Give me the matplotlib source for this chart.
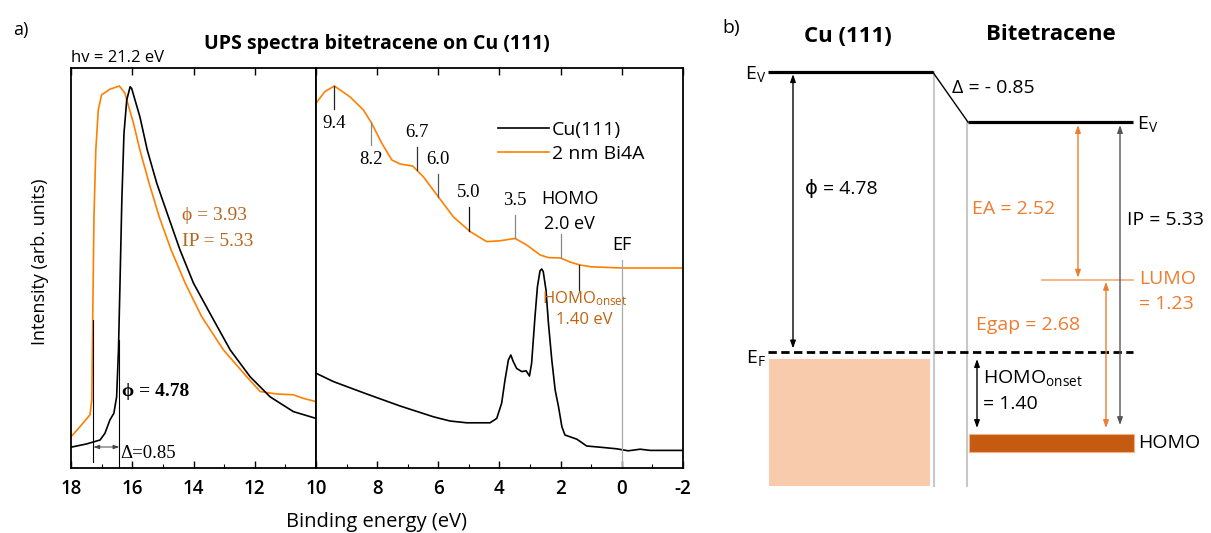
import matplotlib

matplotlib.use("Agg")
import matplotlib.pyplot as plt
import numpy as np
from matplotlib.patches import Rectangle

plt.rcParams["font.family"] = ["Open Sans", "DejaVu Sans"]
plt.rcParams["mathtext.fontset"] = "custom"
plt.rcParams["mathtext.rm"] = "Open Sans"
plt.rcParams["mathtext.it"] = "Open Sans:italic"
plt.rcParams["mathtext.bf"] = "Open Sans:bold"
plt.rcParams["axes.unicode_minus"] = False

SERIF = ["Liberation Serif", "DejaVu Serif"]

# ---- UPS spectra (binding energy in eV, intensity in arb. units) ----
hv = 21.2
phi_cu = 4.78
phi_film = 3.93
ip_film = 5.33

# secondary electron cutoff region (18 -> 10 eV)
cu_left_e = [18.0, 17.5, 17.05, 16.89, 16.73, 16.6, 16.51, 16.45, 16.40, 16.34, 16.27, 16.18, 16.07,
             16.02, 15.75, 15.51, 15.20, 14.82, 14.44, 14.0, 13.40, 12.80, 12.15, 11.50, 10.74, 10.0]
cu_left_i = [0.052, 0.060, 0.070, 0.087, 0.120, 0.137, 0.178, 0.295, 0.462, 0.670, 0.837, 0.920, 0.953,
             0.949, 0.878, 0.795, 0.712, 0.628, 0.545, 0.462, 0.378, 0.295, 0.228, 0.178, 0.141, 0.124]
film_left_e = [18.0, 17.71, 17.38, 17.32, 17.29, 17.25, 17.19, 17.11, 17.0, 16.73, 16.42, 16.24, 15.96,
               15.75, 15.45, 15.12, 14.73, 14.27, 13.73, 13.02, 12.26, 11.82, 11.28, 10.74, 10.41, 10.0]
film_left_i = [0.078, 0.103, 0.133, 0.170, 0.378, 0.628, 0.795, 0.895, 0.933, 0.947, 0.955, 0.937, 0.862,
               0.795, 0.712, 0.628, 0.545, 0.462, 0.378, 0.295, 0.228, 0.191, 0.185, 0.183, 0.174, 0.166]

# valence band region (10 -> -2 eV)
cu_right_e = [10.0, 9.43, 8.34, 7.25, 6.16, 5.62, 5.07, 4.31, 4.09, 3.93, 3.82, 3.71, 3.63, 3.55, 3.44,
              3.27, 3.13, 3.02, 2.95, 2.84, 2.76, 2.675, 2.62, 2.57, 2.48, 2.40, 2.29, 2.18, 2.07, 1.96,
              1.86, 1.47, 1.15, 0.71, 0.17, -0.21, -0.6, -0.93, -2.0]
cu_right_i = [0.237, 0.216, 0.185, 0.155, 0.128, 0.1175, 0.113, 0.113, 0.124, 0.162, 0.220, 0.270, 0.2825,
              0.266, 0.249, 0.241, 0.243, 0.230, 0.262, 0.378, 0.453, 0.493, 0.4975, 0.491, 0.445, 0.362,
              0.270, 0.195, 0.153, 0.103, 0.0825, 0.072, 0.055, 0.052, 0.048, 0.043, 0.047, 0.044, 0.044]
film_right_e = [10.0, 9.71, 9.4, 8.89, 8.45, 8.18, 7.85, 7.52, 7.25, 6.84, 6.49, 6.0, 5.51, 4.96, 4.42,
                3.98, 3.49, 3.11, 2.67, 2.4, 2.0, 1.70, 1.37, 1.0, 0.0, -2.0]
film_right_i = [0.912, 0.941, 0.955, 0.928, 0.895, 0.862, 0.812, 0.770, 0.760, 0.755, 0.728, 0.678, 0.628,
                0.591, 0.566, 0.568, 0.574, 0.5575, 0.5325, 0.526, 0.525, 0.515, 0.5075, 0.503, 0.500, 0.500]

peak_e = [9.4, 8.2, 6.7, 6.0, 5.0, 3.5]
peak_below = [True, True, False, False, False, False]
peak_color = ["#222222", "#888888", "#333333", "#555555", "#111111", "#888888"]
homo_e = 2.0
homo_onset = 1.40

# ---- energy level diagram (eV relative to E_F) ----
delta = -0.85
vac_org = phi_cu + delta
lumo = 1.23
ea = 2.52
egap = 2.68

ORANGE = "#ff8000"
BROWN = "#b5651d"
D_ORANGE = "#c0620e"
B_ORANGE = "#ed7d31"

W, H = 1211, 533
fig = plt.figure(figsize=(W / 100, H / 100), dpi=100)


def fxy(x, y):
    return x / W, 1 - y / H


ax_l = fig.add_axes([71 / W, 1 - 468 / H, 245 / W, 400 / H])
ax_r = fig.add_axes([316 / W, 1 - 468 / H, 367 / W, 400 / H])

ax_l.plot(film_left_e, film_left_i, color=ORANGE, lw=1.2)
ax_l.plot(cu_left_e, cu_left_i, color="black", lw=1.2)
l_cu, = ax_r.plot(cu_right_e, cu_right_i, color="black", lw=1.2, label="Cu(111)")
l_film, = ax_r.plot(film_right_e, film_right_i, color=ORANGE, lw=1.2, label="2 nm Bi4A")

ax_l.set_xlim(18, 10)
ax_r.set_xlim(10, -2)
for ax in (ax_l, ax_r):
    ax.set_ylim(0, 1)
    ax.set_yticks([])
    for sp in ax.spines.values():
        sp.set_linewidth(1.3)
    ax.tick_params(axis="x", which="major", direction="in", top=True, bottom=True,
                   length=5, width=1, pad=8, labelsize=13.5)
    ax.tick_params(axis="x", which="minor", direction="in", top=False, bottom=True,
                   length=3, width=0.8)
ax_l.set_xticks([18, 16, 14, 12])
ax_l.set_xticks([17, 15, 13, 11], minor=True)
ax_r.set_xticks([10, 8, 6, 4, 2, 0, -2])
ax_r.set_xticks([9, 7, 5, 3, 1, -1], minor=True)
for ax in (ax_l, ax_r):
    for lab in ax.get_xticklabels():
        lab.set_fontweight("semibold")

# cutoff construction lines and work-function shift
cut_cu = hv - phi_cu
cut_film = hv - phi_film
ax_l.plot([cut_film, cut_film], [0.015, 0.37], color="black", lw=0.8)
ax_l.plot([cut_cu, cut_cu], [0.0, 0.32], color="black", lw=0.8)
ax_l.annotate("", xy=(cut_cu, 0.0525), xytext=(cut_film, 0.0525),
              arrowprops=dict(arrowstyle="<|-|>,head_length=0.35,head_width=0.12",
                              color="#444444", lw=0.7, shrinkA=0, shrinkB=0))
ax_l.text(cut_cu - 0.02, 0.036, f"\u0394={phi_cu - phi_film:.2f}", family=SERIF, fontsize=13.5,
          ha="left", va="center")
ax_l.text(16.33, 0.19, f"\u03d5 = {phi_cu:.2f}", family=SERIF, fontsize=14, fontweight="bold",
          ha="left", va="center")
ax_l.text(14.37, 0.63, f"\u03d5 = {phi_film:.2f}", family=SERIF, fontsize=14, color=BROWN,
          ha="left", va="center")
ax_l.text(14.37, 0.565, f"IP = {ip_film:.2f}", family=SERIF, fontsize=14, color=BROWN,
          ha="left", va="center")

# peak markers on the film spectrum
fe = film_right_e[::-1]
fi = film_right_i[::-1]
for e, below, c in zip(peak_e, peak_below, peak_color):
    y0 = np.interp(e, fe, fi)
    sgn = -1 if below else 1
    ax_r.plot([e, e], [y0, y0 + sgn * 0.058], color=c, lw=0.9)
    ax_r.text(e, y0 + sgn * 0.094, f"{e:.1f}", family=SERIF, fontsize=13.5, ha="center", va="center")

y_homo = np.interp(homo_e, fe, fi)
ax_r.plot([homo_e, homo_e], [y_homo, y_homo + 0.06], color="#888888", lw=0.9)
ax_r.text(homo_e - 0.3, y_homo + 0.085, f"{homo_e:.1f} eV", fontsize=13, ha="center", va="center")
ax_r.text(homo_e - 0.3, y_homo + 0.148, "HOMO", fontsize=13, ha="center", va="center")

y_on = np.interp(homo_onset, fe, fi)
ax_r.plot([homo_onset, homo_onset], [y_on, y_on - 0.062], color="#222222", lw=0.9)
ax_r.text(homo_onset - 0.18, y_on - 0.085, r"HOMO$_\mathrm{onset}$", fontsize=12, color=D_ORANGE,
          ha="center", va="center")
ax_r.text(homo_onset - 0.18, y_on - 0.138, f"{homo_onset:.2f} eV", fontsize=12, color=D_ORANGE,
          ha="center", va="center")

y_ef = np.interp(0.0, fe, fi)
ax_r.plot([0, 0], [0, y_ef + 0.02], color="#aaaaaa", lw=0.9)
ax_r.text(0, y_ef + 0.057, "EF", fontsize=13, ha="center", va="center")

ax_r.legend(handles=[l_cu, l_film], loc="upper left", bbox_to_anchor=(0.496, 0.868), frameon=False,
            fontsize=14, handlelength=2.6, handletextpad=0.15, borderpad=0, borderaxespad=0,
            labelspacing=0.3)

fig.text(*fxy(13, 30), "a)", fontsize=13, ha="left", va="center")
fig.text(*fxy(377, 44), "UPS spectra bitetracene on Cu (111)", fontsize=14, fontweight="bold",
         ha="center", va="center")
fig.text(*fxy(71, 58), f"hv = {hv} eV", fontsize=12, ha="left", va="center")
fig.text(*fxy(377, 522), "Binding energy (eV)", fontsize=14.5, ha="center", va="center")
fig.text(*fxy(40, 262), "Intensity (arb. units)", fontsize=13, rotation=90, ha="center", va="center")

# ---- panel b: energy level alignment ----
px_per_ev = 58.5
ef_px = 352
ax_b = fig.add_axes([700 / W, 0, 511 / W, 1])
ax_b.set_xlim(700, 1211)
ax_b.set_ylim((ef_px - H) / px_per_ev, ef_px / px_per_ev)
ax_b.axis("off")

band_bottom = -2.29
homo_top = -homo_onset
homo_thick = 0.31

ax_b.add_patch(Rectangle((769, band_bottom), 161, -0.12 - band_bottom, color="#f8cbad", lw=0))
ax_b.add_patch(Rectangle((969, homo_top - homo_thick), 165, homo_thick, facecolor="#c55a11",
                         edgecolor="#f4b183", lw=0.8))
ax_b.plot([934, 934], [band_bottom, phi_cu], color="#c8c8c8", lw=1.5)
ax_b.plot([967, 967], [band_bottom, vac_org], color="#c8c8c8", lw=1.5)
ax_b.plot([768, 933], [phi_cu, phi_cu], color="black", lw=2.3, solid_capstyle="butt")
ax_b.plot([933, 968], [phi_cu, vac_org], color="black", lw=1)
ax_b.plot([968, 1133], [vac_org, vac_org], color="black", lw=2.3, solid_capstyle="butt")
ax_b.plot([1042, 1133], [lumo, lumo], color="#f4b183", lw=1.3)
ax_b.plot([768, 1133], [0, 0], color="black", lw=2, linestyle=(0, (3, 1.6)))


def level_arrow(x, y0, y1, color):
    ax_b.annotate("", xy=(x, y1), xytext=(x, y0),
                  arrowprops=dict(arrowstyle="<|-|>,head_length=0.45,head_width=0.16",
                                  color=color, lw=1, shrinkA=0, shrinkB=0))


level_arrow(793, 0.06, phi_cu - 0.03, "black")
level_arrow(1078, lumo + 0.04, vac_org - 0.05, B_ORANGE)
level_arrow(1120, homo_top + 0.15, vac_org - 0.05, "#555555")
level_arrow(1106, homo_top + 0.1, lumo - 0.03, B_ORANGE)
level_arrow(977, homo_top + 0.1, -0.12, "black")

fs = 14
ax_b.text(766, phi_cu - 0.03, r"E$_\mathrm{V}$", fontsize=fs, ha="right", va="center")
ax_b.text(1137, vac_org - 0.04, r"E$_\mathrm{V}$", fontsize=fs, ha="left", va="center")
ax_b.text(766, -0.1, r"E$_\mathrm{F}$", fontsize=fs, ha="right", va="center")
ax_b.text(952, phi_cu - 0.27, f"\u0394 = - {abs(delta):.2f}", fontsize=fs, ha="left", va="center")
ax_b.text(805, 2.80, f"\u03d5 = {phi_cu:.2f}", fontsize=fs, ha="left", va="center")
ax_b.text(972, 2.44, f"EA = {ea:.2f}", fontsize=fs, color=B_ORANGE, ha="left", va="center")
ax_b.text(1127, 2.26, f"IP = {ip_film:.2f}", fontsize=fs, ha="left", va="center")
ax_b.text(1139, lumo + 0.02, "LUMO", fontsize=fs, color=B_ORANGE, ha="left", va="center")
ax_b.text(1139, lumo - 0.41, f"= {lumo:.2f}", fontsize=fs, color=B_ORANGE, ha="left", va="center")
ax_b.text(976, 0.46, f"Egap = {egap:.2f}", fontsize=fs, color=B_ORANGE, ha="left", va="center")
ax_b.text(983, -0.44, r"HOMO$_\mathrm{onset}$", fontsize=fs, ha="left", va="center")
ax_b.text(983, -0.89, f"= {homo_onset:.2f}", fontsize=fs, ha="left", va="center")
ax_b.text(1138, homo_top - 0.15, "HOMO", fontsize=fs, ha="left", va="center")

fig.text(*fxy(722, 28), "b)", fontsize=14, ha="left", va="center")
fig.text(*fxy(848, 37), "Cu (111)", fontsize=16, fontweight="bold", ha="center", va="center")
fig.text(*fxy(1051, 35), "Bitetracene", fontsize=16, fontweight="bold", ha="center", va="center")

fig.savefig("out.png", dpi=100)
